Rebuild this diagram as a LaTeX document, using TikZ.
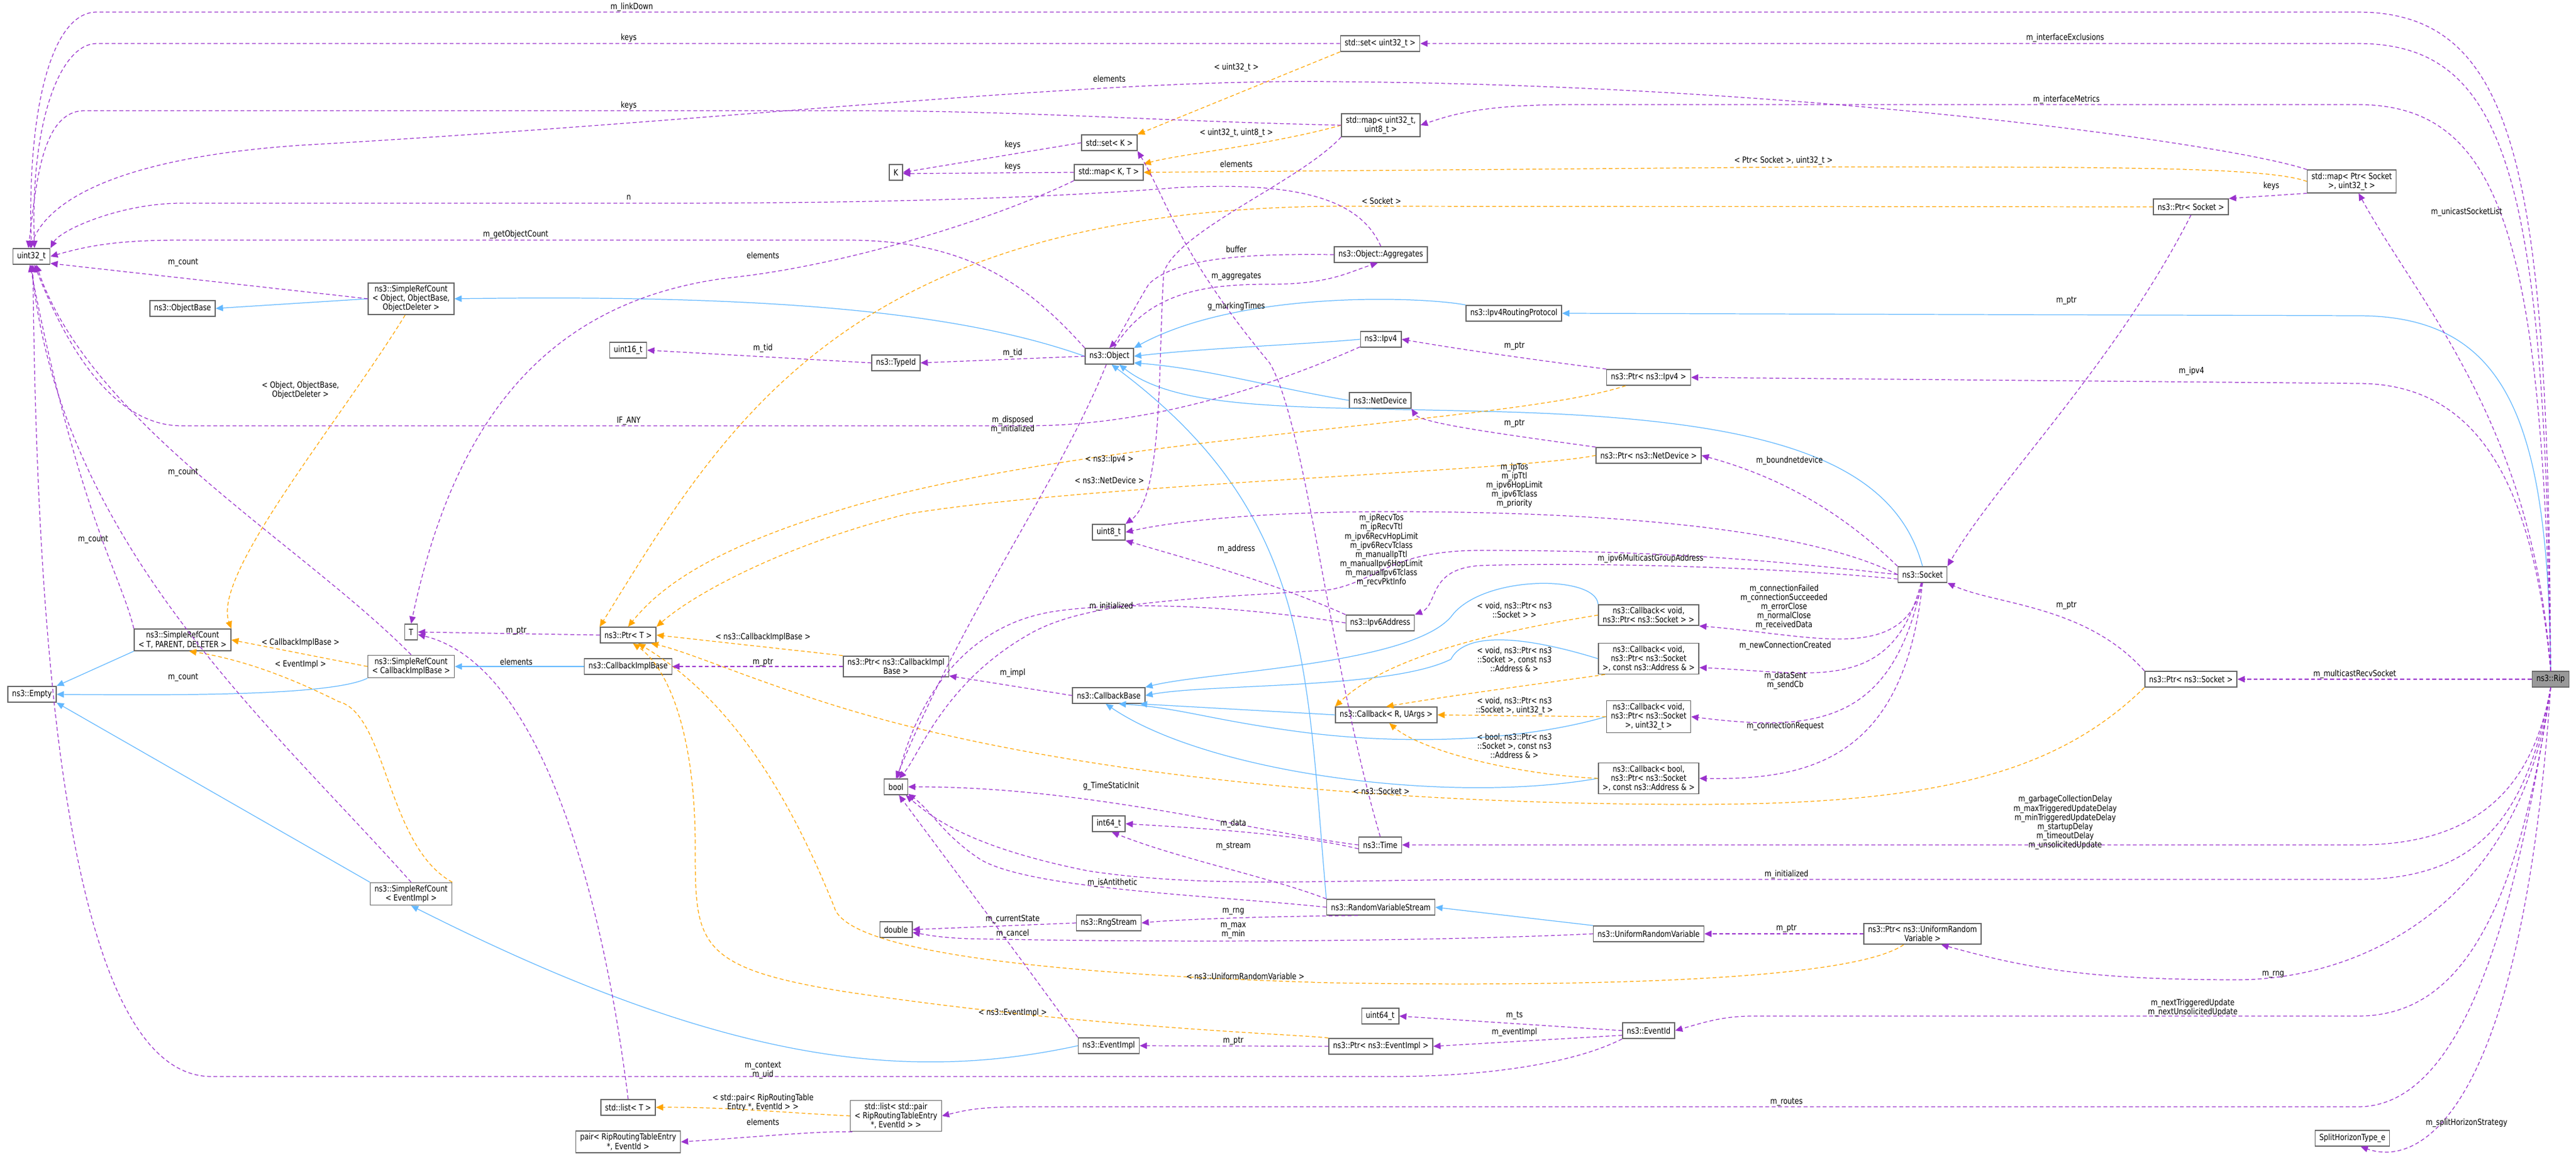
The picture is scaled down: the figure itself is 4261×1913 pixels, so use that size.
\documentclass[tikz,border=0pt]{standalone}
\usepackage{fontspec}
\setmainfont{DejaVu Sans}[FakeStretch=0.82]
\usetikzlibrary{arrows.meta}
\definecolor{pur}{HTML}{9A32CD}
\definecolor{org}{HTML}{FFA500}
\definecolor{blu}{HTML}{63B8FF}
\newcommand{\fs}{\fontsize{4}{4.3}\selectfont}
\tikzset{
 box/.style={draw=black!60, fill=white, inner xsep=2pt, inner ysep=1.2pt, align=center, font=\fs, line width=0.45pt, minimum height=0.26cm},
 lbl/.style={font=\fs, align=center, inner sep=0.3pt},
 tip/.style={-{Triangle[length=3.4pt,width=3pt]}},
 pe/.style={draw=pur, dash pattern=on 1.8pt off 1.2pt, tip, line width=0.35pt},
 oe/.style={draw=org, dash pattern=on 1.8pt off 1.2pt, tip, line width=0.35pt},
 ie/.style={draw=blu, tip, line width=0.35pt},
}
\begin{document}
\begin{tikzpicture}[x=0.01cm,y=-0.01cm]
\useasboundingbox (0,0) rectangle (4261,1913);
% nodes
\node[box] (u32) at (52,424) {uint32\_t};
\node[box] (obase) at (302,510) {ns3::ObjectBase};
\node[box] (srcobj) at (680,494) {ns3::SimpleRefCount\\< Object, ObjectBase,\\ObjectDeleter >};
\node[box] (u16) at (1039,579) {uint16\_t};
\node[box] (setK) at (1835,236) {std::set< K >};
\node[box] (K) at (1482,285) {K};
\node[box] (mapKT) at (1834,285) {std::map< K, T >};
\node[box] (typeid) at (1482,600) {ns3::TypeId};
\node[box] (obj) at (1835,589) {ns3::Object};
\node[box] (aggr) at (2284,421) {ns3::Object::Aggregates};
\node[box] (setu32) at (2283,72) {std::set< uint32\_t >};
\node[box] (mapu8) at (2284,207) {std::map< uint32\_t,\\uint8\_t >};
\node[box] (mapps) at (3890,300) {std::map< Ptr< Socket\\>, uint32\_t >};
\node[box] (ptrsock) at (3624,342) {ns3::Ptr< Socket >};
\node[box] (irp) at (2504,518) {ns3::Ipv4RoutingProtocol};
\node[box] (ipv4) at (2284,561) {ns3::Ipv4};
\node[box] (ptripv4) at (2727,624) {ns3::Ptr< ns3::Ipv4 >};
\node[box] (netdev) at (2283,662) {ns3::NetDevice};
\node[box] (ptrnd) at (2727,753) {ns3::Ptr< ns3::NetDevice >};
\node[box] (sock) at (3180,950) {ns3::Socket};
\node[box] (ip6) at (2283,1030) {ns3::Ipv6Address};
\node[box] (cbv1) at (2727,1017) {ns3::Callback< void,\\ns3::Ptr< ns3::Socket > >};
\node[box] (cbv2) at (2727,1089) {ns3::Callback< void,\\ns3::Ptr< ns3::Socket\\>, const ns3::Address \& >};
\node[box] (cbr) at (2293,1182) {ns3::Callback< R, UArgs >};
\node[box] (cbv3) at (2727,1185) {ns3::Callback< void,\\ns3::Ptr< ns3::Socket\\>, uint32\_t >};
\node[box] (cbb) at (2727,1287) {ns3::Callback< bool,\\ns3::Ptr< ns3::Socket\\>, const ns3::Address \& >};
\node[box] (ptrnsock) at (3624,1123) {ns3::Ptr< ns3::Socket >};
\node[box, fill=black!40] (rip) at (4219,1123) {ns3::Rip};
\node[box] (srcT) at (302,1058) {ns3::SimpleRefCount\\< T, PARENT, DELETER >};
\node[box] (T) at (680,1045) {T};
\node[box] (ptrT) at (1039,1050) {ns3::Ptr< T >};
\node[box] (srccb) at (680,1102) {ns3::SimpleRefCount\\< CallbackImplBase >};
\node[box] (empty) at (53,1148) {ns3::Empty};
\node[box] (cib) at (1039,1102) {ns3::CallbackImplBase};
\node[box] (u8) at (1834,880) {uint8\_t};
\node[box] (ptrcib) at (1482,1102) {ns3::Ptr< ns3::CallbackImpl\\Base >};
\node[box] (cbase) at (1834,1150) {ns3::CallbackBase};
\node[box] (bool) at (1482,1301) {bool};
\node[box] (srcev) at (680,1478) {ns3::SimpleRefCount\\< EventImpl >};
\node[box] (i64) at (1834,1362) {int64\_t};
\node[box] (dbl) at (1482,1537) {double};
\node[box] (rng) at (1834,1526) {ns3::RngStream};
\node[box] (evimpl) at (1834,1729) {ns3::EventImpl};
\node[box] (listT) at (1039,1831) {std::list< T >};
\node[box] (listp) at (1482,1845) {std::list< std::pair\\< RipRoutingTableEntry\\*, EventId > >};
\node[box] (pairn) at (1039,1888) {pair< RipRoutingTableEntry\\*, EventId >};
\node[box] (time) at (2283,1397) {ns3::Time};
\node[box] (rvs) at (2284,1500) {ns3::RandomVariableStream};
\node[box] (urv) at (2727,1544) {ns3::UniformRandomVariable};
\node[box] (ptrurv) at (3180,1544) {ns3::Ptr< ns3::UniformRandom\\Variable >};
\node[box] (u64) at (2283,1680) {uint64\_t};
\node[box] (evid) at (2727,1704) {ns3::EventId};
\node[box] (ptrev) at (2284,1730) {ns3::Ptr< ns3::EventImpl >};
\node[box] (sht) at (3891,1882) {SplitHorizonType\_e};

% ---------- inheritance (blue)
\draw[ie] (srcobj.west) -- (obase.east);
\draw[ie] (obj.west) .. controls (1600,520) and (1300,486) .. (srcobj.east);
\draw[ie] (irp.north west) .. controls (2350,490) and (2050,480) .. (obj.north east);
\draw[ie] (ipv4.west) .. controls (2150,570) and (2000,575) .. (obj.east);
\draw[ie] (netdev.west) .. controls (2100,640) and (2000,610) .. (obj.-15);
\draw[ie] (sock.north) .. controls (3130,750) and (2900,690) .. (2450,680) .. controls (2150,672) and (1950,680) .. (obj.-40);
\draw[ie] (rvs.north west) .. controls (2160,1100) and (2170,850) .. (obj.-75);
\draw[ie] (rip.north) .. controls (4215,700) and (4150,522) .. (3900,522) -- (irp.east);
\draw[ie] (srcT.south west) -- (empty.north east);
\draw[ie] (srccb.south west) .. controls (550,1150) and (300,1150) .. (empty.east);
\draw[ie] (srcev.north west) -- (empty.south east);
\draw[ie] (cib.west) -- (srccb.east);
\draw[ie] (evimpl.west) .. controls (1500,1790) and (1200,1760) .. (srcev.south);
\draw[ie] (cbv1.north west) .. controls (2640,950) and (2450,950) .. (2400,1020) .. controls (2330,1100) and (2000,1110) .. (cbase.north east);
\draw[ie] (cbv2.west) .. controls (2500,1045) and (2420,1050) .. (2400,1090) .. controls (2300,1140) and (2000,1130) .. (cbase.east);
\draw[ie] (cbr.west) -- (cbase.-15);
\draw[ie] (cbv3.west) .. controls (2500,1230) and (2300,1230) .. (2150,1210) .. controls (2000,1190) and (1950,1170) .. (cbase.-40);
\draw[ie] (cbb.west) .. controls (2400,1330) and (2000,1280) .. (cbase.-110);
\draw[ie] (urv.north west) -- (rvs.east);

% ---------- template instances (orange)
\draw[oe] (srcobj.-110) .. controls (560,700) and (350,950) .. (srcT.north east);
\draw[oe] (srccb.west) -- (srcT.east);
\draw[oe] (srcev.north east) .. controls (640,1400) and (640,1180) .. (560,1160) .. controls (480,1120) and (400,1090) .. (srcT.-60);
\draw[oe] (setu32.south west) -- (setK.north east);
\draw[oe] (mapu8.west) .. controls (2100,240) and (1950,255) .. (mapKT.north east);
\draw[oe] (mapps.west) .. controls (3750,276) and (3500,276) .. (3000,276) -- (mapKT.east);
\draw[oe] (ptrsock.west) -- (2200,341) .. controls (1400,350) and (1200,700) .. (ptrT.north west);
\draw[oe] (ptripv4.-160) .. controls (2500,700) and (1800,720) .. (1400,840) .. controls (1200,900) and (1100,960) .. (ptrT.north);
\draw[oe] (ptrnd.west) .. controls (2500,780) and (1800,800) .. (1500,850) .. controls (1300,900) and (1150,980) .. (ptrT.north east);
\draw[oe] (ptrcib.north west) -- (ptrT.east);
\draw[oe] (ptrnsock.south west) .. controls (3400,1280) and (3200,1330) .. (2800,1330) .. controls (2400,1330) and (1900,1300) .. (1500,1200) .. controls (1300,1150) and (1150,1080) .. (ptrT.-20);
\draw[oe] (ptrurv.-150) .. controls (3050,1630) and (2500,1630) .. (2200,1625) .. controls (1700,1610) and (1400,1570) .. (1380,1500) .. controls (1300,1300) and (1200,1150) .. (ptrT.-40);
\draw[oe] (ptrev.north west) .. controls (2150,1710) and (1800,1700) .. (1400,1640) .. controls (1150,1600) and (1150,1560) .. (1150,1400) .. controls (1150,1200) and (1100,1100) .. (ptrT.-60);
\draw[oe] (cbv1.west) .. controls (2500,1040) and (2300,1080) .. (cbr.north west);
\draw[oe] (cbv2.-160) .. controls (2550,1130) and (2400,1150) .. (cbr.north);
\draw[oe] (cbv3.west) -- (cbr.east);
\draw[oe] (cbb.west) .. controls (2500,1280) and (2350,1240) .. (cbr.-70);
\draw[oe] (listp.west) .. controls (1300,1840) and (1200,1830) .. (listT.east);

% ---------- usage (purple)
\draw[pe] (rip.north) .. controls (4215,300) and (4170,20) .. (3900,20) -- (160,20) .. controls (80,20) and (45,200) .. (u32.north);
\draw[pe] (setu32.west) -- (160,72) .. controls (100,72) and (50,200) .. (u32.70);
\draw[pe] (rip.north) .. controls (4210,300) and (4150,72) .. (3900,72) -- (setu32.east);
\draw[pe] (mapps.north west) .. controls (3700,240) and (3000,140) .. (2200,135) .. controls (1800,130) and (1200,200) .. (500,240) .. controls (200,260) and (80,330) .. (u32.100);
\draw[pe] (mapu8.west) .. controls (1900,200) and (1700,183) .. (1400,183) -- (140,183) .. controls (70,183) and (60,300) .. (u32.110);
\draw[pe] (rip.north) .. controls (4205,400) and (4140,173) .. (3900,173) -- (2600,173) .. controls (2450,173) and (2400,190) .. (mapu8.east);
\draw[pe] (aggr.north) .. controls (2250,330) and (2150,300) .. (1950,310) .. controls (1700,330) and (1400,336) .. (1100,336) -- (300,336) .. controls (200,336) and (100,380) .. (u32.north east);
\draw[pe] (obj.north west) .. controls (1700,470) and (1600,397) .. (1400,397) -- (300,397) .. controls (200,397) and (150,405) .. (u32.east);
\draw[pe] (srcobj.west) -- (u32.-20);
\draw[pe] (srcT.north west) .. controls (200,950) and (130,850) .. (u32.-100);
\draw[pe] (srccb.north) .. controls (500,900) and (150,700) .. (u32.-60);
\draw[pe] (srcev.north) .. controls (450,1200) and (100,900) .. (u32.-90);
\draw[pe] (evid.south west) .. controls (2600,1760) and (2450,1780) .. (2300,1780) -- (350,1780) .. controls (100,1780) and (60,1000) .. (u32.-80);
\draw[pe] (ipv4.-160) .. controls (2100,640) and (1900,704) .. (1700,704) -- (300,704) .. controls (200,704) and (120,600) .. (u32.-70);
\draw[pe] (obj.-110) .. controls (1750,800) and (1600,1000) .. (bool.north);
\draw[pe] (setK.west) -- (K.east);
\draw[pe] (mapKT.west) -- (K.-10);
\draw[pe] (mapKT.south west) .. controls (1650,360) and (1400,440) .. (1200,460) .. controls (900,500) and (750,700) .. (T.north);
\draw[pe] (mapu8.south west) .. controls (2150,300) and (1950,380) .. (1925,450) .. controls (1915,600) and (1925,820) .. (u8.north east);
\draw[pe] (time.north) .. controls (2200,1100) and (2160,700) .. (2100,600) .. controls (1950,420) and (1930,330) .. (setK.south east);
\draw[pe] (sock.west) .. controls (3000,880) and (2700,846) .. (2300,846) .. controls (2100,846) and (1950,860) .. (u8.east);
\draw[pe] (ip6.north west) .. controls (2100,960) and (1950,920) .. (u8.south east);
\draw[pe] (sock.west) .. controls (3000,935) and (2800,910) .. (2450,910) .. controls (2300,910) and (2280,960) .. (2200,975) .. controls (2000,990) and (1800,990) .. (1700,1050) .. controls (1560,1130) and (1520,1250) .. (bool.70);
\draw[pe] (sock.-170) .. controls (2900,935) and (2600,930) .. (2450,935) .. controls (2360,940) and (2380,1000) .. (ip6.north east);
\draw[pe] (ip6.west) .. controls (2100,1010) and (1900,990) .. (1750,1010) .. controls (1600,1030) and (1520,1150) .. (bool.80);
\draw[pe] (ptrcib.west) -- (cib.east);
\draw[pe] (cbase.west) -- (ptrcib.-10);
\draw[pe] (ptrT.west) -- (T.east);
\draw[pe] (listT.north) .. controls (1000,1500) and (900,1100) .. (T.-20);
\draw[pe] (sock.north west) .. controls (3050,850) and (2950,790) .. (ptrnd.east);
\draw[pe] (ptrnd.north west) .. controls (2500,720) and (2350,700) .. (netdev.south east);
\draw[pe] (ptripv4.north west) .. controls (2500,590) and (2400,575) .. (ipv4.east);
\draw[pe] (rip.north) .. controls (4190,800) and (4100,634) .. (3900,634) -- (ptripv4.east);
\draw[pe] (ptrsock.south) .. controls (3500,600) and (3300,800) .. (sock.north east);
\draw[pe] (mapps.south west) -- (ptrsock.north east);
\draw[pe] (rip.north) .. controls (4190,700) and (4000,500) .. (mapps.-60);
\draw[pe] (ptrnsock.north west) .. controls (3450,1000) and (3300,1000) .. (sock.south east);
\draw[pe] (rip.west) -- (ptrnsock.east);
\draw[pe] (sock.south) .. controls (3150,1100) and (3000,1050) .. (cbv1.south east);
\draw[pe] (sock.-100) .. controls (3130,1150) and (3000,1112) .. (cbv2.-10);
\draw[pe] (sock.-95) .. controls (3130,1200) and (3000,1210) .. (cbv3.east);
\draw[pe] (sock.-90) .. controls (3150,1250) and (3000,1290) .. (cbb.east);
\draw[pe] (time.west) .. controls (2100,1380) and (1800,1300) .. (bool.east);
\draw[pe] (time.-170) .. controls (2150,1380) and (2000,1370) .. (i64.east);
\draw[pe] (rvs.north west) .. controls (2100,1450) and (1950,1420) .. (i64.-70);
\draw[pe] (rvs.west) .. controls (2000,1480) and (1700,1470) .. (1620,1420) .. controls (1560,1380) and (1540,1340) .. (bool.-30);
\draw[pe] (rvs.-160) .. controls (2100,1515) and (1950,1520) .. (rng.east);
\draw[pe] (rng.west) -- (dbl.east);
\draw[pe] (urv.west) .. controls (2400,1555) and (2000,1560) .. (1600,1552) .. controls (1550,1550) and (1530,1545) .. (dbl.-10);
\draw[pe] (evimpl.north west) .. controls (1700,1600) and (1550,1400) .. (bool.-70);
\draw[pe] (rip.south) .. controls (4190,1300) and (4100,1397) .. (3900,1397) -- (time.east);
\draw[pe] (rip.south) .. controls (4180,1350) and (4100,1454) .. (3900,1454) -- (2500,1454) .. controls (2200,1454) and (2000,1470) .. (1800,1440) .. controls (1600,1400) and (1540,1350) .. (bool.-40);
\draw[pe] (ptrurv.west) -- (urv.east);
\draw[pe] (rip.south) .. controls (4170,1500) and (3900,1620) .. (3700,1620) .. controls (3450,1620) and (3350,1600) .. (ptrurv.-30);
\draw[pe] (evid.west) -- (u64.east);
\draw[pe] (evid.-170) -- (ptrev.east);
\draw[pe] (ptrev.west) -- (evimpl.east);
\draw[pe] (rip.south) .. controls (4160,1550) and (4050,1680) .. (3900,1680) -- (2900,1680) .. controls (2850,1680) and (2820,1690) .. (evid.east);
\draw[pe] (rip.south) .. controls (4150,1600) and (4050,1830) .. (3900,1830) -- (1700,1830) .. controls (1620,1830) and (1600,1835) .. (listp.east);
\draw[pe] (listp.-160) .. controls (1350,1870) and (1250,1880) .. (pairn.east);
\draw[pe] (rip.south) .. controls (4170,1850) and (4000,1930) .. (sht.-45);
\draw[pe] (aggr.west) .. controls (2100,420) and (1950,420) .. (1900,470) .. controls (1870,520) and (1850,560) .. (obj.north);
\draw[pe] (obj.60) .. controls (1900,480) and (2000,470) .. (2100,470) .. controls (2200,470) and (2230,450) .. (aggr.-110);
\draw[pe] (typeid.west) -- (u16.east);
\draw[pe] (obj.west) -- (typeid.east);

% ---------- labels
\node[lbl] (l1) at (1045,12) {m\_linkDown};
\node[lbl] (l2) at (1040,63) {keys};
\node[lbl] (l3) at (3416,63) {m\_interfaceExclusions};
\node[lbl] (l4) at (1835,130) {elements};
\node[lbl] (l5) at (1040,175) {keys};
\node[lbl] (l6) at (3418,165) {m\_interfaceMetrics};
\node[lbl] (l7) at (1040,327) {n};
\node[lbl] (l8) at (853,388) {m\_getObjectCount};
\node[lbl] (l9) at (303,434) {m\_count};
\node[lbl] (l10) at (497,645) {< Object, ObjectBase,\\ObjectDeleter >};
\node[lbl] (l11) at (2045,112) {< uint32\_t >};
\node[lbl] (l12) at (1675,240) {keys};
\node[lbl] (l13) at (1675,276) {keys};
\node[lbl] (l14) at (2045,220) {< uint32\_t, uint8\_t >};
\node[lbl] (l15) at (2045,271) {elements};
\node[lbl] (l16) at (2950,266) {< Ptr< Socket >, uint32\_t >};
\node[lbl] (l17) at (2285,332) {< Socket >};
\node[lbl] (l18) at (3757,308) {keys};
\node[lbl] (l19) at (4080,351) {m\_unicastSocketList};
\node[lbl] (l20) at (1262,422) {elements};
\node[lbl] (l21) at (2045,412) {buffer};
\node[lbl] (l22) at (2045,457) {m\_aggregates};
\node[lbl] (l23) at (2045,507) {g\_markingTimes};
\node[lbl] (l24) at (3418,497) {m\_ptr};
\node[lbl] (l25) at (1262,576) {m\_tid};
\node[lbl] (l26) at (1675,584) {m\_tid};
\node[lbl] (l27) at (2505,572) {m\_ptr};
\node[lbl] (l28) at (3625,614) {m\_ipv4};
\node[lbl] (l29) at (1040,696) {IF\_ANY};
\node[lbl] (l30) at (1675,702) {m\_disposed\\m\_initialized};
\node[lbl] (l31) at (2505,700) {m\_ptr};
\node[lbl] (l32) at (1835,760) {< ns3::Ipv4 >};
\node[lbl] (l33) at (1835,794) {< ns3::NetDevice >};
\node[lbl] (l34) at (2960,762) {m\_boundnetdevice};
\node[lbl] (l35) at (2505,803) {m\_ipTos\\m\_ipTtl\\m\_ipv6HopLimit\\m\_ipv6Tclass\\m\_priority};
\node[lbl] (l36) at (154,892) {m\_count};
\node[lbl] (l37) at (303,781) {m\_count};
\node[lbl] (l38) at (2045,908) {m\_address};
\node[lbl] (l39) at (2285,910) {m\_ipRecvTos\\m\_ipRecvTtl\\m\_ipv6RecvHopLimit\\m\_ipv6RecvTclass\\m\_manualIpTtl\\m\_manualIpv6HopLimit\\m\_manualIpv6Tclass\\m\_recvPktInfo};
\node[lbl] (l40) at (2730,924) {m\_ipv6MulticastGroupAddress};
\node[lbl] (l41) at (1838,1003) {m\_initialized};
\node[lbl] (l42) at (2505,1009) {< void, ns3::Ptr< ns3\\::Socket > >};
\node[lbl] (l43) at (2951,1004) {m\_connectionFailed\\m\_connectionSucceeded\\m\_errorClose\\m\_normalClose\\m\_receivedData};
\node[lbl] (l44) at (1262,1054) {< ns3::CallbackImplBase >};
\node[lbl] (l45) at (497,1063) {< CallbackImplBase >};
\node[lbl] (l46) at (854,1043) {m\_ptr};
\node[lbl] (l47) at (854,1094) {elements};
\node[lbl] (l48) at (1262,1095) {m\_ptr};
\node[lbl] (l49) at (497,1099) {< EventImpl >};
\node[lbl] (l50) at (303,1120) {m\_count};
\node[lbl] (l51) at (1675,1113) {m\_impl};
\node[lbl] (l52) at (2953,1068) {m\_newConnectionCreated};
\node[lbl] (l53) at (2505,1090) {< void, ns3::Ptr< ns3\\::Socket >, const ns3\\::Address \& >};
\node[lbl] (l54) at (3418,1001) {m\_ptr};
\node[lbl] (l55) at (3895,1115) {m\_multicastRecvSocket};
\node[lbl] (l56) at (2953,1125) {m\_dataSent\\m\_sendCb};
\node[lbl] (l57) at (2505,1167) {< void, ns3::Ptr< ns3\\::Socket >, uint32\_t >};
\node[lbl] (l58) at (2505,1233) {< bool, ns3::Ptr< ns3\\::Socket >, const ns3\\::Address \& >};
\node[lbl] (l59) at (2953,1201) {m\_connectionRequest};
\node[lbl] (l60) at (2285,1308) {< ns3::Socket >};
\node[lbl] (l61) at (1838,1300) {g\_TimeStaticInit};
\node[lbl] (l62) at (3416,1360) {m\_garbageCollectionDelay\\m\_maxTriggeredUpdateDelay\\m\_minTriggeredUpdateDelay\\m\_startupDelay\\m\_timeoutDelay\\m\_unsolicitedUpdate};
\node[lbl] (l63) at (2040,1362) {m\_data};
\node[lbl] (l64) at (2040,1399) {m\_stream};
\node[lbl] (l65) at (2955,1446) {m\_initialized};
\node[lbl] (l66) at (1840,1460) {m\_isAntithetic};
\node[lbl] (l67) at (2040,1507) {m\_rng};
\node[lbl] (l68) at (1675,1520) {m\_currentState};
\node[lbl] (l69) at (1675,1544) {m\_cancel};
\node[lbl] (l70) at (2040,1539) {m\_max\\m\_min};
\node[lbl] (l71) at (2955,1535) {m\_ptr};
\node[lbl] (l72) at (2060,1614) {< ns3::UniformRandomVariable >};
\node[lbl] (l73) at (3760,1611) {m\_rng};
\node[lbl] (l74) at (3627,1666) {m\_nextTriggeredUpdate\\m\_nextUnsolicitedUpdate};
\node[lbl] (l75) at (1675,1675) {< ns3::EventImpl >};
\node[lbl] (l76) at (2505,1679) {m\_ts};
\node[lbl] (l77) at (2505,1707) {m\_eventImpl};
\node[lbl] (l78) at (2040,1721) {m\_ptr};
\node[lbl] (l79) at (1262,1770) {m\_context\\m\_uid};
\node[lbl] (l80) at (1262,1823) {< std::pair< RipRoutingTable\\Entry *, EventId > >};
\node[lbl] (l81) at (2955,1822) {m\_routes};
\node[lbl] (l82) at (1262,1855) {elements};
\node[lbl] (l83) at (4080,1857) {m\_splitHorizonStrategy};
\end{tikzpicture}
\end{document}
